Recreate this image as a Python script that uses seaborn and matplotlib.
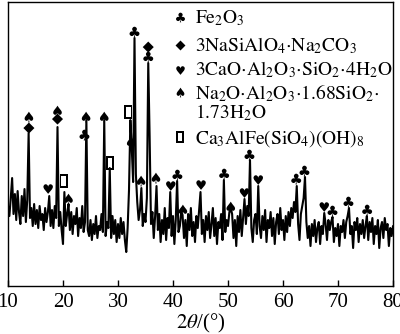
import numpy as np
import pandas as pd
import matplotlib
matplotlib.use("Agg")
import matplotlib.pyplot as plt
import seaborn as sns
from matplotlib.textpath import TextPath
from matplotlib.font_manager import FontProperties
from matplotlib.path import Path
from matplotlib.lines import Line2D

# XRD pattern of the residue, intensity in arbitrary units on a 0.25 deg grid
theta_start = 10.0
theta_step = 0.25
intensity = [
    80, 70, 88, 108, 72, 92, 66, 95, 74, 62, 90, 70, 97, 64, 86, 153, 68, 78, 60, 82,
    62, 76, 58, 80, 66, 72, 56, 78, 64, 74, 90, 60, 76, 58, 80, 68, 159, 60, 74, 56,
    42, 94, 60, 72, 82, 56, 74, 52, 70, 62, 78, 50, 68, 58, 80, 54, 64, 166, 56, 50,
    66, 46, 62, 52, 70, 48, 60, 56, 72, 54, 166, 50, 64, 58, 118, 48, 70, 52, 66, 44,
    62, 48, 68, 52, 64, 46, 34, 58, 96, 166, 138, 104, 248, 112, 84, 66, 76, 98, 60, 72,
    64, 88, 223, 150, 62, 74, 48, 70, 100, 56, 72, 44, 66, 52, 78, 46, 68, 58, 94, 50,
    70, 42, 66, 105, 54, 60, 74, 70, 48, 66, 40, 72, 56, 78, 50, 64, 44, 70, 58, 76,
    94, 52, 66, 44, 70, 56, 74, 48, 62, 78, 50, 68, 42, 64, 58, 72, 46, 106, 54, 66,
    60, 74, 78, 72, 48, 66, 40, 70, 54, 76, 50, 68, 87, 62, 80, 70, 126, 58, 44, 66,
    72, 52, 100, 60, 48, 70, 56, 76, 44, 66, 58, 74, 50, 68, 42, 64, 72, 52, 78, 56,
    66, 46, 70, 54, 74, 60, 78, 68, 84, 74, 100, 62, 46, 72, 80, 88, 109, 64, 48, 60,
    40, 62, 50, 66, 44, 58, 64, 42, 60, 52, 73, 62, 46, 66, 56, 64, 69, 44, 58, 50,
    62, 40, 60, 54, 66, 48, 64, 70, 78, 52, 60, 38, 64, 56, 68, 44, 62, 52, 66, 48,
    60, 70, 46, 64, 54, 68, 42, 60, 52, 66, 38, 58, 64, 48, 68, 56, 62, 40, 58, 50,
    60,
]
two_theta = theta_start + theta_step * np.arange(len(intensity))

# Phase identification marks: phase, 2theta position, symbol height
phases = ["Fe2O3", "NaSiAlO4", "CaO", "Na2O", "Ca3AlFe"]
fe2o3_pos = [23.9, 33.0, 35.5, 40.8, 49.3, 53.9, 62.4, 63.9, 69.0, 71.9, 75.3]
fe2o3_h = [151, 254, 229, 111, 112, 131, 107, 115, 75, 84, 76]
nasi_pos = [13.8, 19.0, 35.5]
nasi_h = [158, 167, 239]
cao_pos = [17.3, 39.6, 45.1, 53.0, 55.5, 67.5]
cao_h = [97, 100, 101, 93, 106, 79]
na2o_pos = [13.8, 19.0, 21.0, 24.2, 27.5, 32.4, 34.2, 36.9, 41.8, 50.5]
na2o_h = [169, 175, 87, 169, 169, 144, 105, 108, 76, 79]
ca3_pos = [20.1, 28.5, 31.9]
ca3_h = [105, 123, 174]

legend_labels = [
    [r"$\mathrm{Fe_2O_3}$"],
    [r"$\mathrm{3NaSiAlO_4{\cdot}Na_2CO_3}$"],
    [r"$\mathrm{3CaO{\cdot}Al_2O_3{\cdot}SiO_2{\cdot}4H_2O}$"],
    [r"$\mathrm{Na_2O{\cdot}Al_2O_3{\cdot}1.68SiO_2{\cdot}}$", r"$\mathrm{1.73H_2O}$"],
    [r"$\mathrm{Ca_3AlFe(SiO_4)(OH)_8}$"],
]
x_ticks = [10, 20, 30, 40, 50, 60, 70, 80]

marks = pd.concat([
    pd.DataFrame({"phase": name, "pos": p, "h": h})
    for name, p, h in zip(
        phases,
        [fe2o3_pos, nasi_pos, cao_pos, na2o_pos, ca3_pos],
        [fe2o3_h, nasi_h, cao_h, na2o_h, ca3_h],
    )
], ignore_index=True)


def glyph_marker(ch):
    tp = TextPath((0, 0), ch, size=1, prop=FontProperties(family="DejaVu Sans"))
    ext = tp.get_extents()
    c = np.array([(ext.x0 + ext.x1) / 2, (ext.y0 + ext.y1) / 2])
    return Path(tp.vertices - c, tp.codes)


def open_rect(w=0.6, h=1.0, t=0.13):
    outer = [(-w / 2, -h / 2), (w / 2, -h / 2), (w / 2, h / 2), (-w / 2, h / 2), (-w / 2, -h / 2)]
    iw, ih = w / 2 - t, h / 2 - t
    inner = [(-iw, -ih), (-iw, ih), (iw, ih), (iw, -ih), (-iw, -ih)]
    codes = [Path.MOVETO, Path.LINETO, Path.LINETO, Path.LINETO, Path.CLOSEPOLY] * 2
    return Path(outer + inner, codes)


marker_map = {
    "Fe2O3": glyph_marker("\u2663"),
    "NaSiAlO4": glyph_marker("\u25c6"),
    "CaO": glyph_marker("\u2665"),
    "Na2O": glyph_marker("\u2660"),
    "Ca3AlFe": open_rect(),
}
marker_size = {"Fe2O3": 9.5, "NaSiAlO4": 8.0, "CaO": 8.5, "Na2O": 9.5, "Ca3AlFe": 9.5}

sns.set_theme(style="white")
plt.rcParams["font.family"] = ["Liberation Serif", "DejaVu Sans"]
plt.rcParams["mathtext.fontset"] = "stix"

W, H = 400, 334
fig = plt.figure(figsize=(W / 100, H / 100), dpi=100)
ax = fig.add_axes([0.02, 0.1437, 0.9625, 0.850])

sns.lineplot(x=two_theta, y=intensity, color="black", linewidth=1.5, ax=ax)

for name in phases:
    sub = marks[marks["phase"] == name]
    sns.scatterplot(data=sub, x="pos", y="h", marker=marker_map[name],
                    s=marker_size[name] ** 2, color="black", edgecolor="none",
                    linewidth=0, ax=ax, legend=False, zorder=3)

# Key in the upper right: symbol column and formula column (pixel layout)
key_marker_x, key_text_x = 180, 195
key_marker_y = [17, 45, 70, 92, 137]
key_baselines = [[23], [51], [75], [99.5, 118.5], [144]]
for name, my, lines, bls in zip(phases, key_marker_y, legend_labels, key_baselines):
    fig.add_artist(Line2D([key_marker_x / W], [1 - my / H], transform=fig.transFigure,
                          linestyle="none", marker=marker_map[name], color="black",
                          markersize=marker_size[name] * 0.9, markeredgewidth=0))
    for txt, bl in zip(lines, bls):
        fig.text(key_text_x / W, 1 - bl / H, txt, fontsize=14, color="black",
                 ha="left", va="baseline")

ax.set_xlim(10, 80)
ax.set_ylim(0, 284)
ax.set_xticks(x_ticks)
ax.set_yticks([])
ax.tick_params(axis="x", direction="in", length=4, width=1, colors="black",
               labelsize=15, pad=5, bottom=True)
for s in ax.spines.values():
    s.set_color("black")
    s.set_linewidth(1)
ax.set_xlabel(r"$\mathit{2\theta}$/(°)", fontsize=15, color="black", labelpad=0)
ax.set_ylabel("")

fig.savefig("out.png", dpi=100)
